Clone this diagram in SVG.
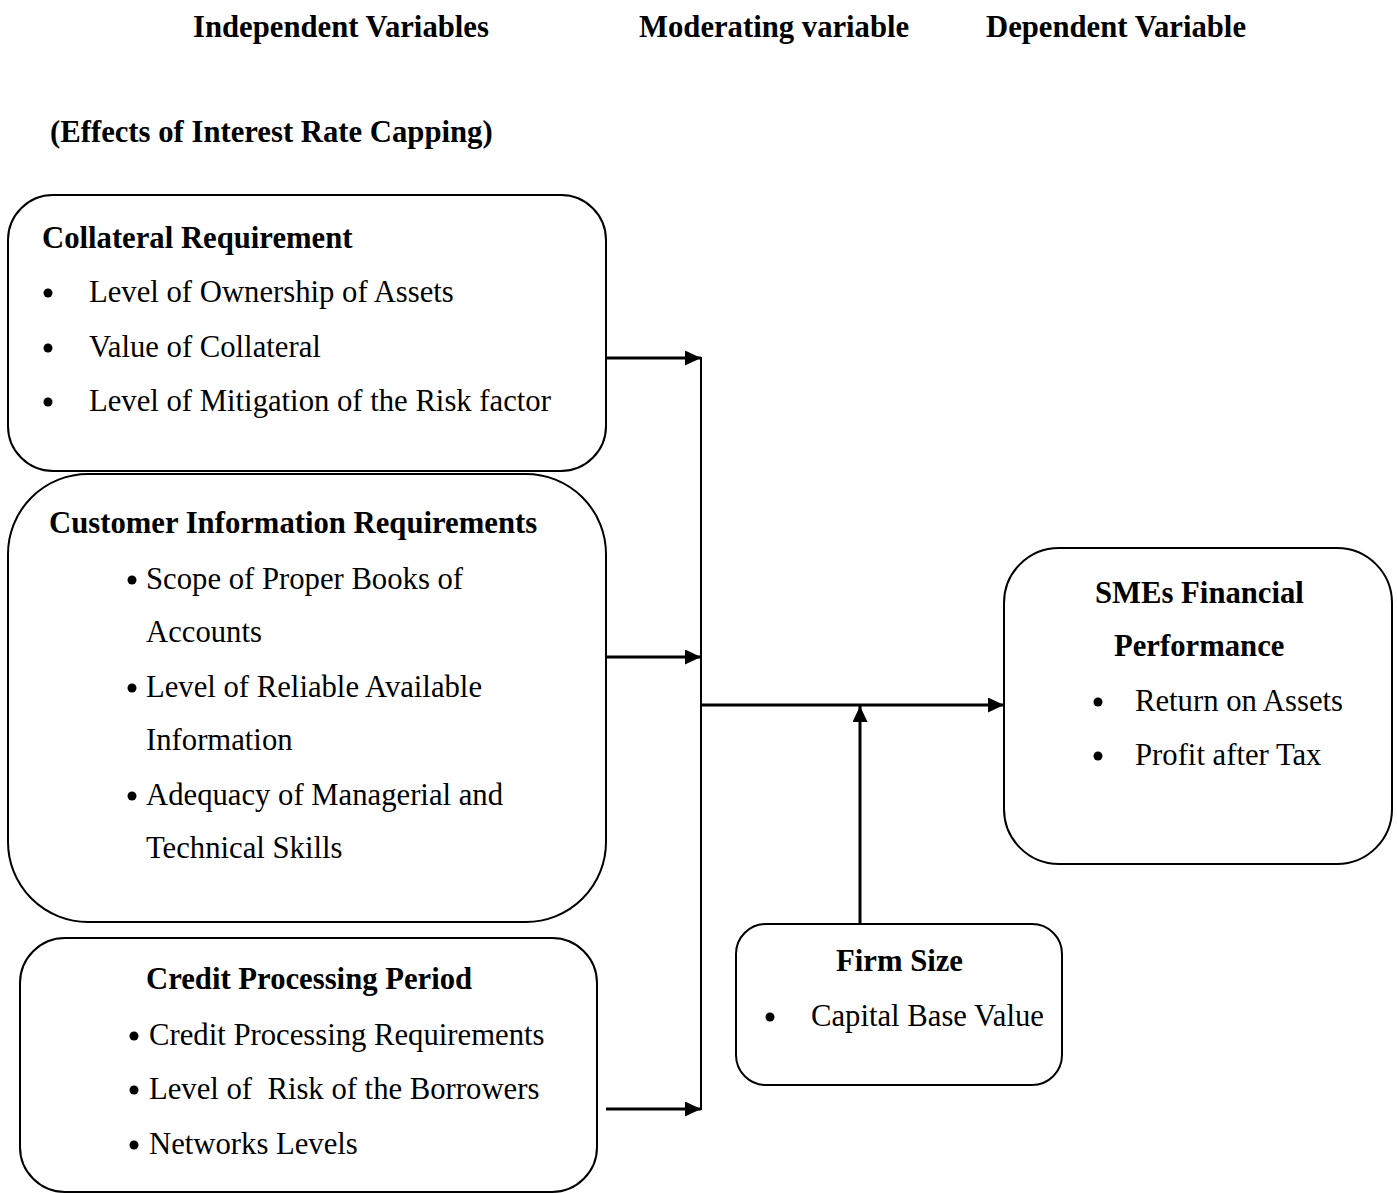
<svg xmlns="http://www.w3.org/2000/svg" width="1397" height="1193" viewBox="0 0 1397 1193">
<style>
.box{fill:#fff;stroke:#000;stroke-width:2}
.h{font-family:"Liberation Serif","Times New Roman",serif;font-weight:bold;font-size:30.7px;fill:#000}
.t{font-family:"Liberation Serif","Times New Roman",serif;font-size:30.7px;fill:#000}
.b{fill:#000}
.ln{stroke:#000;stroke-width:3;fill:none}
.vl{stroke:#000;stroke-width:2;fill:none}
</style>
<defs>
<marker id="ahb" markerWidth="16" markerHeight="15" refX="16" refY="7.5" orient="auto" markerUnits="userSpaceOnUse" viewBox="0 0 16 15">
<path d="M0,0 L16,7.5 L0,15 Z" fill="#000"/>
</marker>
</defs>
<rect width="1397" height="1193" fill="#fff"/>
<g id="headers">
<text class="h" x="193" y="37">Independent Variables</text>
<text class="h" x="639" y="37">Moderating variable</text>
<text class="h" x="986" y="37">Dependent Variable</text>
<text class="h" x="50" y="142">(Effects of Interest Rate Capping)</text>
</g>
<g id="collateral">
<rect class="box" x="8" y="195" width="598" height="276" rx="45" ry="45"/>
<text class="h" x="42" y="248">Collateral Requirement</text>
<circle class="b" cx="48" cy="293" r="4.5"/>
<text class="t" x="89" y="302">Level of Ownership of Assets</text>
<circle class="b" cx="48" cy="348" r="4.5"/>
<text class="t" x="89" y="357">Value of Collateral</text>
<circle class="b" cx="48" cy="402" r="4.5"/>
<text class="t" x="89" y="411">Level of Mitigation of the Risk factor</text>
</g>
<g id="customer">
<rect class="box" x="8" y="474" width="598" height="448" rx="80" ry="80"/>
<text class="h" x="49" y="533">Customer Information Requirements</text>
<circle class="b" cx="132" cy="580" r="4.5"/>
<text class="t" x="146" y="589">Scope of Proper Books of</text>
<text class="t" x="146" y="642">Accounts</text>
<circle class="b" cx="132" cy="688" r="4.5"/>
<text class="t" x="146" y="697">Level of Reliable Available</text>
<text class="t" x="146" y="750">Information</text>
<circle class="b" cx="132" cy="796" r="4.5"/>
<text class="t" x="146" y="805">Adequacy of Managerial and</text>
<text class="t" x="146" y="858">Technical Skills</text>
</g>
<g id="credit">
<rect class="box" x="20" y="938" width="577" height="254" rx="45" ry="45"/>
<text class="h" x="146" y="989">Credit Processing Period</text>
<circle class="b" cx="134" cy="1036" r="4.5"/>
<text class="t" x="149" y="1045">Credit Processing Requirements</text>
<circle class="b" cx="134" cy="1090" r="4.5"/>
<text class="t" x="149" y="1099" xml:space="preserve">Level of  Risk of the Borrowers</text>
<circle class="b" cx="134" cy="1145" r="4.5"/>
<text class="t" x="149" y="1154">Networks Levels</text>
</g>
<g id="smes">
<rect class="box" x="1004" y="548" width="388" height="316" rx="55" ry="55"/>
<text class="h" x="1095" y="603">SMEs Financial</text>
<text class="h" x="1114" y="656">Performance</text>
<circle class="b" cx="1098" cy="702" r="4.5"/>
<text class="t" x="1135" y="711">Return on Assets</text>
<circle class="b" cx="1098" cy="756" r="4.5"/>
<text class="t" x="1135" y="765">Profit after Tax</text>
</g>
<g id="firmsize">
<rect class="box" x="736" y="924" width="326" height="161" rx="30" ry="30"/>
<text class="h" x="836" y="971">Firm Size</text>
<circle class="b" cx="770" cy="1017" r="4.5"/>
<text class="t" x="811" y="1026">Capital Base Value</text>
</g>
<g id="connectors">
<line class="vl" x1="701" y1="357" x2="701" y2="1110"/>
<line class="ln" x1="606" y1="358" x2="701" y2="358" marker-end="url(#ahb)"/>
<line class="ln" x1="606" y1="657" x2="701" y2="657" marker-end="url(#ahb)"/>
<line class="ln" x1="606" y1="1109" x2="701" y2="1109" marker-end="url(#ahb)"/>
<line class="ln" x1="701" y1="705" x2="1004" y2="705" marker-end="url(#ahb)"/>
<line class="ln" x1="860" y1="924" x2="860" y2="706" marker-end="url(#ahb)"/>
</g>
</svg>
